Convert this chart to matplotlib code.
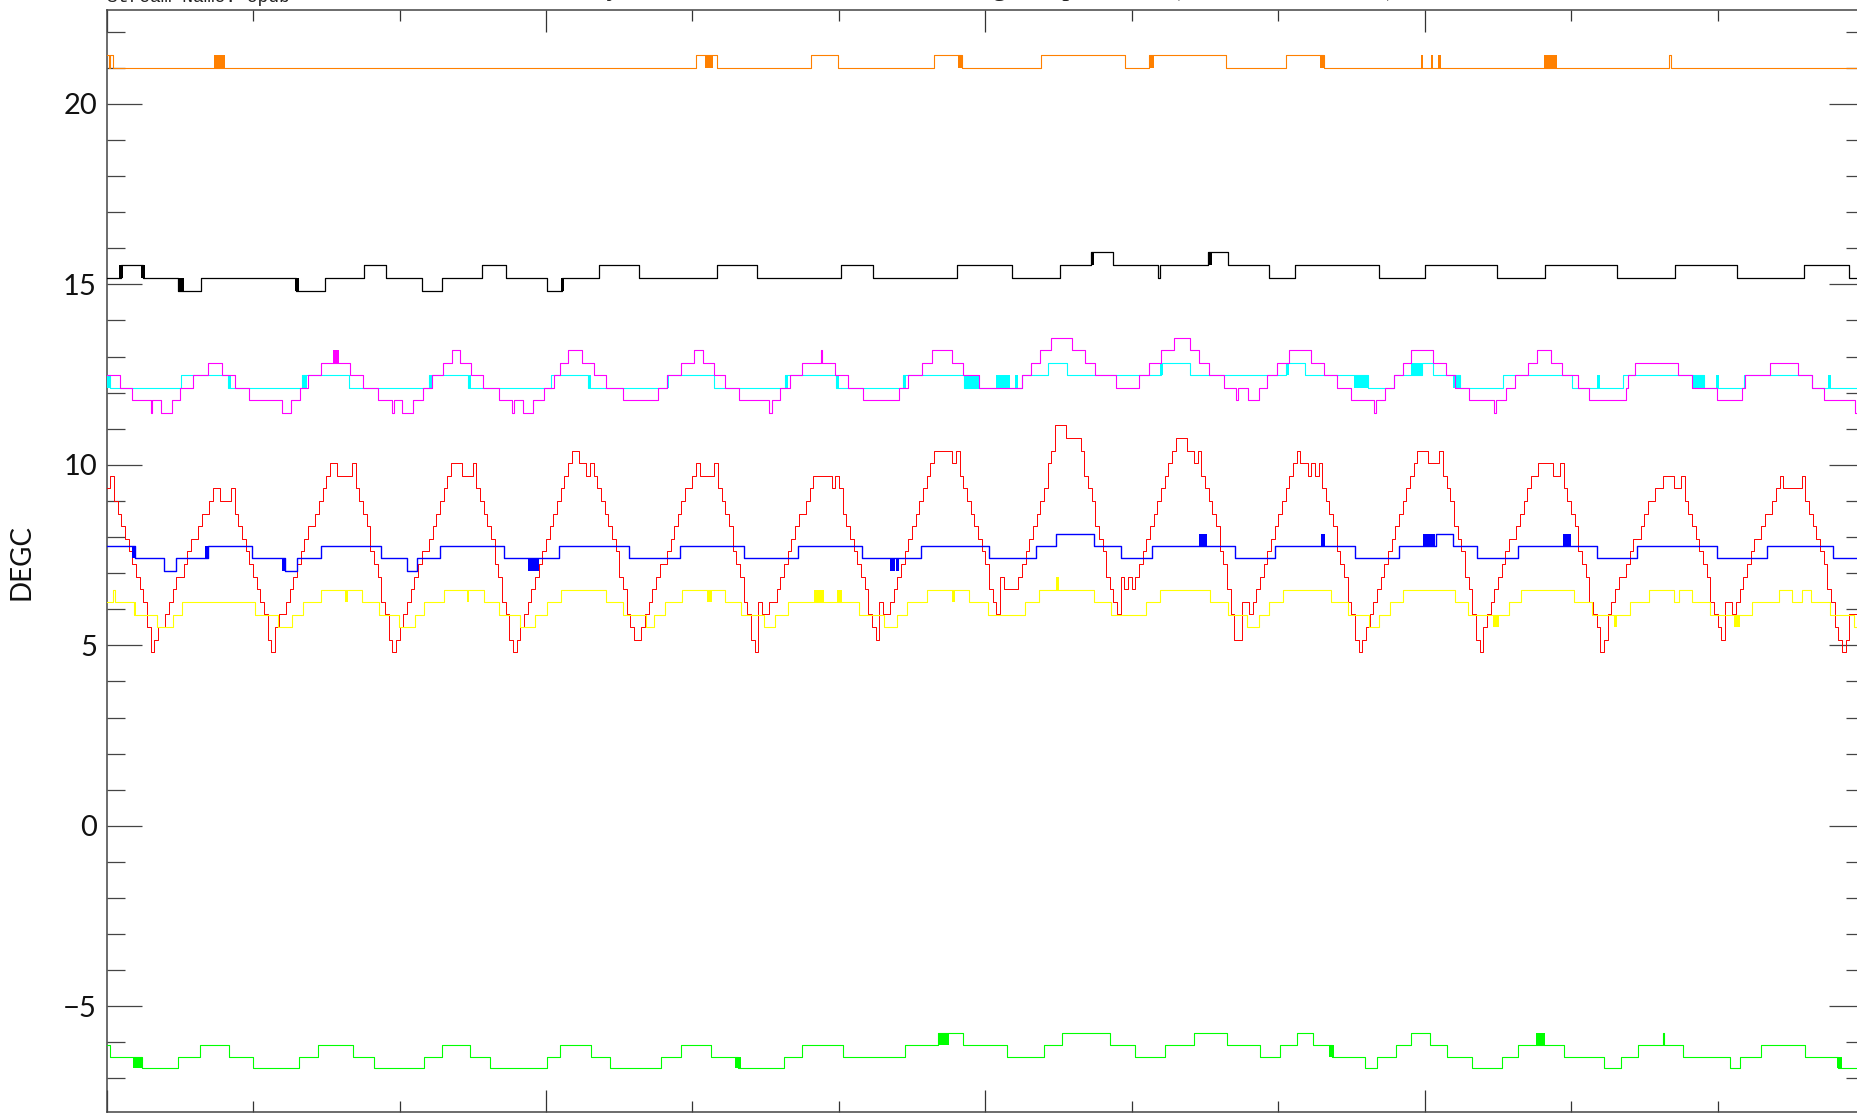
import matplotlib
matplotlib.use("Agg")
import matplotlib.pyplot as plt
import numpy as np
from matplotlib.ticker import MultipleLocator

# x axis: hours of the day (0-24), y axis: temperature in DEGC
XMAX = 24.0
YMIN, YMAX = -7.92, 22.6

# red sensor, raw counts every 3 minutes, calibration below
RED_DT = 0.05
RED_C0 = 4.46
RED_Q = 0.349
RED_DN = [
    14, 15, 13, 12, 11, 10, 9, 8, 7, 6, 5, 3, 1, 2, 3, 3, 4, 5, 6, 7,
    7, 8, 9, 10, 10, 11, 12, 12, 13, 14, 14, 13, 13, 13, 14, 12, 11, 10, 9, 8,
    7, 6, 5, 4, 2, 1, 3, 4, 4, 5, 6, 7, 8, 9, 10, 11, 11, 12, 13, 14,
    15, 16, 16, 15, 15, 15, 15, 16, 14, 13, 12, 11, 9, 8, 7, 5, 4, 2, 1, 2,
    3, 4, 5, 6, 7, 8, 9, 9, 10, 11, 12, 13, 14, 15, 16, 16, 16, 15, 15, 15,
    16, 14, 13, 12, 11, 10, 8, 7, 5, 4, 2, 1, 2, 3, 4, 5, 6, 7, 8, 9,
    10, 11, 12, 13, 14, 15, 16, 17, 17, 16, 16, 15, 16, 15, 14, 13, 12, 11, 10, 9,
    7, 6, 4, 3, 2, 2, 3, 4, 5, 6, 7, 8, 8, 9, 10, 11, 12, 13, 14, 14,
    15, 16, 15, 15, 15, 15, 16, 14, 13, 12, 11, 9, 8, 7, 5, 4, 2, 1, 5, 4,
    4, 5, 5, 6, 7, 8, 9, 10, 11, 12, 12, 13, 14, 15, 15, 15, 15, 15, 14, 15,
    14, 12, 11, 10, 9, 8, 7, 6, 4, 3, 2, 5, 4, 4, 5, 6, 7, 8, 9, 10,
    11, 12, 13, 14, 15, 16, 17, 17, 17, 17, 17, 16, 17, 15, 14, 13, 12, 11, 10, 9,
    8, 6, 5, 4, 7, 6, 6, 6, 6, 7, 8, 9, 10, 11, 12, 13, 14, 16, 17, 19,
    19, 19, 18, 18, 18, 18, 17, 15, 14, 13, 11, 10, 9, 7, 6, 5, 4, 7, 6, 7,
    6, 7, 8, 9, 10, 11, 12, 13, 14, 15, 16, 17, 18, 18, 18, 17, 17, 16, 17, 15,
    14, 13, 12, 11, 9, 8, 6, 4, 2, 2, 5, 5, 4, 5, 6, 7, 8, 9, 10, 11,
    12, 13, 14, 15, 16, 17, 16, 16, 15, 16, 15, 16, 14, 13, 12, 11, 9, 8, 7, 5,
    4, 2, 1, 2, 3, 4, 5, 6, 7, 8, 9, 10, 11, 12, 13, 14, 15, 16, 17, 17,
    17, 16, 16, 16, 17, 15, 14, 13, 11, 10, 9, 7, 6, 4, 2, 1, 3, 4, 5, 6,
    7, 8, 9, 10, 10, 11, 12, 13, 14, 15, 15, 16, 16, 16, 16, 15, 15, 16, 14, 13,
    12, 11, 9, 8, 7, 5, 4, 3, 1, 2, 4, 5, 6, 7, 7, 8, 9, 10, 10, 11,
    12, 13, 13, 14, 14, 15, 15, 15, 14, 14, 15, 13, 12, 11, 10, 9, 8, 7, 5, 4,
    3, 2, 5, 5, 4, 5, 6, 7, 8, 9, 10, 10, 11, 12, 12, 13, 14, 15, 14, 14,
    14, 14, 14, 15, 13, 12, 11, 10, 9, 8, 6, 5, 3, 2, 1, 2, 4, 4, 3, 4,
]

# step series: change times (h) and the level held from that time on
ORANGE_T = [0.00, 0.03, 0.05, 0.08, 8.05, 8.33, 9.62, 9.99, 11.30, 11.68, 12.76, 13.91,
            14.23, 15.29, 16.11, 16.63, 21.34, 21.36]
ORANGE_V = [21.36, 21.00, 21.36, 21.00, 21.36, 21.00, 21.36, 21.00, 21.36, 21.00, 21.36, 21.00,
            21.36, 21.00, 21.36, 21.00, 21.36, 21.00]
ORANGE_FLICK = [(1.47, 1.62), (8.17, 8.28), (11.63, 11.68), (14.23, 14.30), (16.57, 16.63),
                (17.95, 17.98), (18.08, 18.12), (18.18, 18.22), (19.63, 19.81)]

BLACK_T = [0.00, 0.19, 0.49, 0.98, 1.29, 2.59, 2.98, 3.51, 3.82, 4.31, 4.58, 5.12, 5.46, 6.01,
           6.22, 6.73, 7.27, 8.34, 8.88, 10.03, 10.46, 11.61, 12.36, 13.02, 13.44, 13.75, 14.36,
           14.38, 15.04, 15.31, 15.88, 16.23, 17.38, 18.00, 18.99, 19.64, 20.63, 21.42, 22.26,
           23.18, 23.79]
BLACK_V = [15.17, 15.53, 15.17, 14.81, 15.17, 14.81, 15.17, 15.53, 15.17, 14.81, 15.17, 15.53,
           15.17, 14.81, 15.17, 15.53, 15.17, 15.53, 15.17, 15.53, 15.17, 15.53, 15.17, 15.53,
           15.89, 15.53, 15.17, 15.53, 15.89, 15.53, 15.17, 15.53, 15.17, 15.53, 15.17, 15.53,
           15.17, 15.53, 15.17, 15.53, 15.17]
BLACK_FLICK = [(0.17, 0.22, 15.17, 15.53), (0.47, 0.52, 15.17, 15.53), (0.98, 1.05, 14.81, 15.17),
               (2.57, 2.62, 14.81, 15.17), (6.20, 6.24, 14.81, 15.17), (13.44, 13.49, 15.53, 15.89),
               (15.04, 15.10, 15.53, 15.89)]

MAGENTA_T = [0.00, 0.18, 0.35, 0.60, 0.62, 0.74, 0.89, 1.00, 1.18, 1.38, 1.58, 1.75, 1.94, 2.40,
             2.52, 2.64, 2.75, 2.92, 3.32, 3.50, 3.71, 3.90, 3.92, 4.03, 4.18, 4.32, 4.44, 4.59,
             4.71, 4.82, 4.98, 5.14, 5.36, 5.54, 5.56, 5.68, 5.82, 5.97, 6.11, 6.19, 6.30, 6.49,
             6.66, 6.82, 7.05, 7.53, 7.65, 7.85, 8.02, 8.14, 8.29, 8.44, 8.64, 9.04, 9.08, 9.20,
             9.33, 9.50, 9.75, 9.77, 9.95, 10.12, 10.33, 10.82, 10.94, 11.13, 11.27, 11.54, 11.69,
             11.92, 12.50, 12.63, 12.75, 12.89, 13.18, 13.36, 13.50, 13.79, 14.10, 14.24, 14.40,
             14.57, 14.79, 14.92, 15.06, 15.26, 15.43, 15.45, 15.59, 15.74, 15.84, 15.98, 16.15,
             16.45, 16.62, 16.80, 16.99, 17.31, 17.33, 17.46, 17.58, 17.70, 17.82, 18.11, 18.29,
             18.42, 18.60, 18.95, 18.98, 19.11, 19.24, 19.41, 19.54, 19.72, 19.88, 20.09, 20.24,
             20.75, 20.78, 20.87, 21.46, 21.65, 21.99, 22.33, 22.38, 22.72, 23.10, 23.29, 23.45,
             23.88]
MAGENTA_V = [12.48, 12.13, 11.79, 11.44, 11.79, 11.44, 11.79, 12.13, 12.48, 12.82, 12.48, 12.13,
             11.79, 11.44, 11.79, 12.13, 12.48, 12.82, 12.48, 12.13, 11.79, 11.44, 11.79, 11.44,
             11.79, 12.13, 12.48, 12.82, 13.17, 12.82, 12.48, 12.13, 11.79, 11.44, 11.79, 11.44,
             11.79, 12.13, 12.48, 12.82, 13.17, 12.82, 12.48, 12.13, 11.79, 12.13, 12.48, 12.82,
             13.17, 12.82, 12.48, 12.13, 11.79, 11.44, 11.79, 12.13, 12.48, 12.82, 13.17, 12.82,
             12.48, 12.13, 11.79, 12.13, 12.48, 12.82, 13.17, 12.82, 12.48, 12.13, 12.48, 12.82,
             13.17, 13.52, 13.17, 12.82, 12.48, 12.13, 12.48, 12.82, 13.17, 13.52, 13.17, 12.82,
             12.48, 12.13, 11.79, 12.13, 11.79, 12.13, 12.48, 12.82, 13.17, 12.82, 12.48, 12.13,
             11.79, 11.44, 11.79, 12.13, 12.48, 12.82, 13.17, 12.82, 12.48, 12.13, 11.79, 11.44,
             11.79, 12.13, 12.48, 12.82, 13.17, 12.82, 12.48, 12.13, 11.79, 12.13, 12.48, 12.82,
             12.48, 12.13, 11.79, 12.13, 12.48, 12.82, 12.48, 12.13, 11.79, 11.44]
MAGENTA_FLICK = [(3.09, 3.17, 12.82, 13.17)]

CYAN_T = [0.00, 0.05, 1.02, 1.66, 2.67, 3.31, 4.40, 4.94, 6.07, 6.57, 7.65, 8.29, 9.26, 9.96,
          10.88, 11.71, 12.50, 12.85, 13.11, 14.40, 14.79, 16.10, 16.37, 17.23, 17.58, 17.97,
          18.11, 18.48, 19.07, 20.01, 20.71, 21.81, 22.36, 23.29]
CYAN_V = [12.48, 12.13, 12.48, 12.13, 12.48, 12.13, 12.48, 12.13, 12.48, 12.13, 12.48, 12.13,
          12.48, 12.13, 12.48, 12.13, 12.48, 12.82, 12.48, 12.82, 12.48, 12.82, 12.48, 12.13,
          12.48, 12.82, 12.48, 12.13, 12.48, 12.13, 12.48, 12.13, 12.48, 12.13]
CYAN_FLICK = [(0.00, 0.05, 12.13, 12.48), (1.66, 1.70, 12.13, 12.48), (2.67, 2.73, 12.13, 12.48),
              (4.40, 4.44, 12.13, 12.48), (4.94, 4.98, 12.13, 12.48), (6.57, 6.61, 12.13, 12.48),
              (7.65, 7.68, 12.13, 12.48), (9.26, 9.30, 12.13, 12.48), (9.96, 10.00, 12.13, 12.48),
              (10.88, 10.92, 12.13, 12.48), (11.71, 11.91, 12.13, 12.48), (12.14, 12.34, 12.13, 12.48),
              (12.40, 12.44, 12.13, 12.48), (14.38, 14.42, 12.48, 12.82), (16.10, 16.15, 12.48, 12.82),
              (17.03, 17.23, 12.13, 12.48), (17.82, 17.97, 12.48, 12.82), (18.39, 18.48, 12.13, 12.48),
              (20.36, 20.40, 12.13, 12.48), (21.65, 21.81, 12.13, 12.48), (21.98, 22.02, 12.13, 12.48),
              (23.51, 23.55, 12.13, 12.48)]

BLUE_T = [0.00, 0.38, 0.78, 0.94, 1.38, 1.99, 2.43, 2.60, 2.92, 3.74, 4.10, 4.24, 4.55, 5.43,
          6.18, 7.13, 7.83, 8.71, 9.44, 10.31, 11.12, 12.05, 12.69, 12.96, 13.49, 13.85, 14.28,
          15.41, 15.96, 17.05, 17.65, 18.15, 18.39, 18.71, 19.27, 20.36, 20.90, 21.99, 22.67, 23.58]
BLUE_V = [7.74, 7.41, 7.07, 7.41, 7.74, 7.41, 7.07, 7.41, 7.74, 7.41, 7.07, 7.41, 7.74, 7.41,
          7.74, 7.41, 7.74, 7.41, 7.74, 7.41, 7.74, 7.41, 7.74, 8.08, 7.74, 7.41, 7.74,
          7.41, 7.74, 7.41, 7.74, 8.08, 7.74, 7.41, 7.74, 7.41, 7.74, 7.41, 7.74, 7.41]
BLUE_FLICK = [(0.35, 0.40, 7.41, 7.74), (1.34, 1.40, 7.41, 7.74), (2.40, 2.45, 7.07, 7.41),
              (5.75, 5.90, 7.07, 7.41), (10.70, 10.76, 7.07, 7.41), (10.78, 10.82, 7.07, 7.41),
              (14.92, 15.03, 7.74, 8.08), (16.59, 16.64, 7.74, 8.08), (17.98, 18.14, 7.74, 8.08),
              (19.89, 20.00, 7.74, 8.08)]

YELLOW_T = [0.00, 0.08, 0.12, 0.37, 0.69, 0.91, 1.03, 2.02, 2.34, 2.53, 2.68, 2.92, 3.49, 3.72,
            3.99, 4.21, 4.34, 4.60, 5.15, 5.36, 5.64, 5.85, 6.01, 6.20, 6.82, 7.05, 7.37, 7.47,
            7.62, 7.86, 8.44, 8.66, 8.98, 9.13, 9.30, 10.28, 10.61, 10.79, 10.93, 11.20, 11.77,
            12.04, 12.54, 12.73, 13.49, 13.72, 14.19, 14.38, 15.07, 15.31, 15.58, 15.74, 15.88,
            16.07, 16.72, 16.95, 17.24, 17.38, 17.52, 17.71, 18.41, 18.59, 19.15, 19.32, 20.04,
            20.29, 20.80, 21.06, 21.40, 21.48, 21.65, 21.90, 22.47, 22.84, 23.01, 23.15, 23.28,
            23.54, 23.86]
YELLOW_V = [6.19, 6.53, 6.19, 5.83, 5.50, 5.83, 6.19, 5.83, 5.50, 5.83, 6.19, 6.53, 6.19, 5.83,
            5.50, 5.83, 6.19, 6.53, 6.19, 5.83, 5.50, 5.83, 6.19, 6.53, 6.19, 5.83, 5.50, 5.83,
            6.19, 6.53, 6.19, 5.83, 5.50, 5.83, 6.19, 5.83, 5.50, 5.83, 6.19, 6.53, 6.19,
            5.83, 6.19, 6.53, 6.19, 5.83, 6.19, 6.53, 6.19, 5.83, 5.50, 5.83, 6.19,
            6.53, 6.19, 5.83, 5.50, 5.83, 6.19, 6.53, 6.19, 5.83, 6.19, 6.53, 6.19,
            5.83, 6.19, 6.53, 6.19, 6.53, 6.19, 5.83, 6.19, 6.53, 6.19, 6.53, 6.19,
            5.83, 5.50]
YELLOW_FLICK = [(0.37, 0.40, 5.83, 6.19), (3.25, 3.29, 6.19, 6.53), (4.92, 4.95, 6.19, 6.53),
                (8.20, 8.27, 6.19, 6.53), (9.66, 9.79, 6.19, 6.53), (9.97, 10.04, 6.19, 6.53),
                (11.55, 11.58, 6.19, 6.53), (12.96, 13.01, 6.53, 6.88), (18.93, 19.01, 5.50, 5.83),
                (20.58, 20.62, 5.50, 5.83), (22.22, 22.31, 5.50, 5.83)]

GREEN_T = [0.00, 0.05, 0.48, 0.98, 1.27, 1.67, 2.00, 2.62, 2.88, 3.36, 3.65, 4.33, 4.58, 4.96,
           5.24, 6.01, 6.19, 6.62, 6.88, 7.57, 7.84, 8.25, 8.62, 9.25, 9.50, 10.05, 10.90, 11.35,
           11.70, 12.30, 12.80, 13.05, 13.70, 14.05, 14.45, 14.85, 15.30, 15.75, 16.02, 16.25,
           16.48, 16.74, 17.19, 17.35, 17.61, 17.82, 18.07, 18.31, 18.65, 19.05, 19.28, 19.90,
           20.45, 20.68, 20.91, 21.25, 21.27, 21.53, 22.17, 22.30, 22.59, 23.19, 23.65]
GREEN_V = [-6.08, -6.40, -6.71, -6.40, -6.08, -6.40, -6.71, -6.40, -6.08, -6.40, -6.71, -6.40,
           -6.08, -6.40, -6.71, -6.40, -6.08, -6.40, -6.71, -6.40, -6.08, -6.40, -6.71, -6.40,
           -6.08, -6.40, -6.08, -5.75, -6.08, -6.40, -6.08, -5.75, -6.08, -6.40, -6.08, -5.75,
           -6.08, -6.40, -6.08, -5.75, -6.08, -6.40, -6.71, -6.40, -6.08, -5.75, -6.08, -6.40,
           -6.71, -6.40, -6.08, -6.40, -6.71, -6.40, -6.08, -5.75, -6.08, -6.40, -6.71, -6.40,
           -6.08, -6.40, -6.71]
GREEN_FLICK = [(0.36, 0.48, -6.71, -6.40), (8.58, 8.66, -6.71, -6.40), (11.35, 11.50, -6.08, -5.75),
               (16.69, 16.76, -6.40, -6.08), (19.52, 19.64, -6.08, -5.75), (23.63, 23.70, -6.71, -6.40)]

YTICKS = [-5, 0, 5, 10, 15, 20]
YLABEL = "DEGC"
STREAM_TEXT = "Stream Name: epdb"
TITLE = "Day 237, 2008, 24 hrs, EPDB Housing Temperatures (DEGC, all sensors)"


def draw_steps(ax, t, v, color, lw=0.8):
    tt = list(t) + [XMAX]
    vv = list(v) + [v[-1]]
    ax.plot(tt, vv, drawstyle="steps-post", color=color, lw=lw, zorder=3)


def draw_flicker(ax, bands, color):
    # fast toggling between two levels shows up as a solid block
    for t0, t1, lo, hi in bands:
        ax.fill_between([t0, t1], lo, hi, color=color, lw=0, zorder=3)


fig = plt.figure(figsize=(18.57, 11.13), dpi=100)
ax = fig.add_axes([106.7 / 1857, 1.3 / 1113, 1757.3 / 1857, 1101.7 / 1113])
ax.set_xlim(0, XMAX)
ax.set_ylim(YMIN, YMAX)

draw_steps(ax, ORANGE_T, ORANGE_V, "#ff8000")
draw_flicker(ax, [(a, b, 21.00, 21.36) for a, b in ORANGE_FLICK], "#ff8000")
draw_steps(ax, BLACK_T, BLACK_V, "black", lw=0.9)
draw_flicker(ax, BLACK_FLICK, "black")
draw_steps(ax, CYAN_T, CYAN_V, "#00ffff")
draw_flicker(ax, CYAN_FLICK, "#00ffff")
draw_steps(ax, MAGENTA_T, MAGENTA_V, "#ff00ff")
draw_flicker(ax, MAGENTA_FLICK, "#ff00ff")

red_t = np.arange(len(RED_DN)) * RED_DT
red_v = RED_C0 + RED_Q * np.array(RED_DN)
draw_steps(ax, red_t, red_v, "#ff0000", lw=0.7)

draw_steps(ax, BLUE_T, BLUE_V, "#0000ff", lw=1.0)
draw_flicker(ax, BLUE_FLICK, "#0000ff")
draw_steps(ax, YELLOW_T, YELLOW_V, "#ffff00")
draw_flicker(ax, YELLOW_FLICK, "#ffff00")
draw_steps(ax, GREEN_T, GREEN_V, "#00ff00")
draw_flicker(ax, GREEN_FLICK, "#00ff00")

# axes styled like the IDL original: inward ticks on all four sides
for s in ax.spines.values():
    s.set_color("#444444")
    s.set_linewidth(1.1)
ax.xaxis.set_major_locator(MultipleLocator(6))
ax.xaxis.set_minor_locator(MultipleLocator(2))
ax.yaxis.set_major_locator(MultipleLocator(5))
ax.yaxis.set_minor_locator(MultipleLocator(1))
ax.tick_params(axis="x", which="major", direction="in", length=15.8, width=0.9,
               color="#333333", top=True, bottom=True, labelbottom=False)
ax.tick_params(axis="x", which="minor", direction="in", length=7.9, width=0.9,
               color="#333333", top=True, bottom=True)
ax.tick_params(axis="y", which="major", direction="in", length=25, width=0.9,
               color="#444444", left=True, right=True, pad=7)
ax.tick_params(axis="y", which="minor", direction="in", length=12.7, width=0.9,
               color="#444444", left=True, right=True)
ax.set_yticks(YTICKS)
ax.set_yticklabels([str(v).replace("-", "\u2212") for v in YTICKS],
                   fontfamily="Lato", fontweight="normal", fontsize=21, color="#111111")

fig.text(21 / 1857, 0.5 - (562 - 556) / 1113, YLABEL, rotation=90, ha="center", va="center",
         fontsize=20, fontfamily="Lato", fontweight="normal", color="#111111")
fig.text(106.7 / 1857, 1 - 1.5 / 1113, STREAM_TEXT, ha="left", va="baseline",
         fontsize=13, fontfamily="Liberation Mono", color="#222222")
# the title sits above the page edge in the original, only its lowest strokes show
fig.text(985 / 1857, 1 + 5 / 1113, TITLE, ha="center", va="baseline",
         fontsize=20, fontfamily="Liberation Serif", color="#222222")

fig.savefig("out.png", dpi=100)
